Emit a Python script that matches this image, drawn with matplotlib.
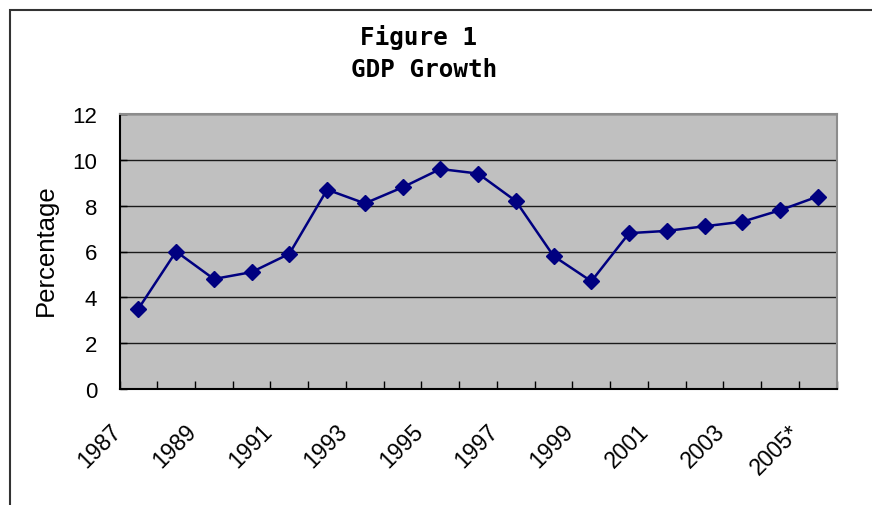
import numpy as np
import matplotlib.pyplot as plt
from matplotlib.patches import Rectangle
from matplotlib.transforms import ScaledTranslation

# data
years = ['1987', '1988', '1989', '1990', '1991', '1992', '1993', '1994', '1995', '1996',
         '1997', '1998', '1999', '2000', '2001', '2002', '2003', '2004', '2005']
growth = [3.5, 6.0, 4.8, 5.1, 5.9, 8.7, 8.1, 8.8, 9.6, 9.4,
          8.2, 5.8, 4.7, 6.8, 6.9, 7.1, 7.3, 7.8, 8.4]
xlabels = ['1987', '1989', '1991', '1993', '1995', '1997', '1999', '2001', '2003', '2005*']
yticks = [0, 2, 4, 6, 8, 10, 12]

W, H = 872, 506
fig = plt.figure(figsize=(W / 100, H / 100), dpi=100)
ax = fig.add_axes([119.5 / W, 1 - 390 / H, (836.7 - 119.5) / W, (390 - 115) / H])

x = np.arange(len(years))
ax.plot(x, growth, color='#000080', lw=1.8, marker='D', ms=8.5, mfc='#000080', mec='#000080', zorder=3)

ax.set_facecolor('#c0c0c0')
ax.set_xlim(-0.5, len(years) - 0.5)
ax.set_ylim(0, 12)
ax.set_yticks(yticks)
ax.set_yticklabels([str(v) for v in yticks], fontsize=16, family='Liberation Sans')
ax.yaxis.grid(True, color='#1a1a1a', lw=1)
ax.set_axisbelow(True)
ax.tick_params(axis='y', direction='in', length=5, width=1, pad=16)

# category boundaries as ticks, labels every other year
ax.set_xticks(np.arange(len(years) + 1) - 0.5, minor=True)
ax.set_xticks(x[::2])
ax.set_xticklabels(xlabels, rotation=45, ha='right', va='top', fontsize=16.5, family='Liberation Sans')
ax.tick_params(axis='x', which='major', length=0, pad=22)
ax.tick_params(axis='x', which='minor', direction='in', length=6, width=1)
for lab in ax.get_xticklabels():
    lab.set_transform(lab.get_transform() + ScaledTranslation(-13 / 100, 0, fig.dpi_scale_trans))

for s in ['top', 'right']:
    ax.spines[s].set_color('#8c8c8c')
    ax.spines[s].set_linewidth(1.5)
for s in ['left', 'bottom']:
    ax.spines[s].set_color('black')
    ax.spines[s].set_linewidth(1.5)

fig.text(46 / W, 1 - 250 / H, 'Percentage', rotation=90, ha='center', va='center',
         fontsize=18.5, family='Liberation Sans')

fig.text(418 / W, 1 - 37 / H, 'Figure 1', ha='center', va='center', fontsize=17.5,
         fontweight='bold', family='DejaVu Sans Mono')
fig.text(424 / W, 1 - 70 / H, 'GDP Growth', ha='center', va='center', fontsize=17.5,
         fontweight='bold', family='DejaVu Sans Mono')

# outer frame (cut off at right and bottom)
fig.add_artist(Rectangle((9.5 / W, -0.1), 1.2, 1.1 - 11 / H, transform=fig.transFigure,
                         fill=False, ec='#333333', lw=1.5))

fig.savefig('out.png', dpi=100)
